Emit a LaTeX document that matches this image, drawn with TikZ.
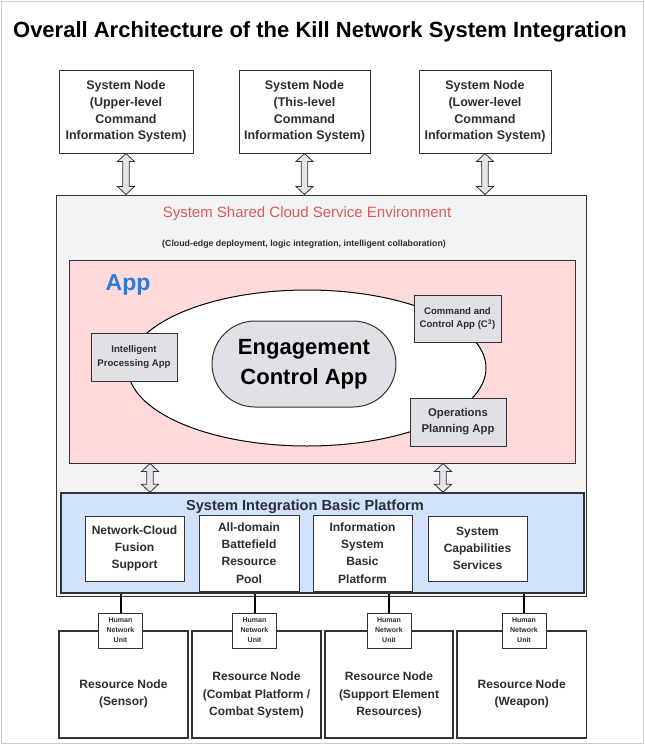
\documentclass[tikz,border=0pt]{standalone}
\usepackage{fontspec}
\setmainfont{Liberation Sans}
\usetikzlibrary{calc,shapes.geometric}
\definecolor{framegray}{HTML}{CCCCCC}
\definecolor{borderdark}{HTML}{333333}
\definecolor{textdark}{HTML}{2D2D2D}
\definecolor{cloudfill}{HTML}{F2F3F5}
\definecolor{pinkfill}{HTML}{FEDADB}
\definecolor{bluefill}{HTML}{D0E3FB}
\definecolor{nodegray}{HTML}{DFE1E6}
\definecolor{arrowfill}{HTML}{E4E5E9}
\definecolor{redtext}{HTML}{E05A5A}
\definecolor{bluetext}{HTML}{2A7AD9}
\definecolor{navytext}{HTML}{2B2F3A}
\newcommand\dblarrow[2]{%
  \draw[arrowstyle] let \p1=(#1), \p2=(#2) in
    (\x1,\y1) -- (\x1+8.5pt,\y1-8pt) -- (\x1+3.3pt,\y1-8pt) -- (\x1+3.3pt,\y2+8pt)
    -- (\x1+8.5pt,\y2+8pt) -- (\x1,\y2) -- (\x1-8.5pt,\y2+8pt) -- (\x1-3.3pt,\y2+8pt)
    -- (\x1-3.3pt,\y1-8pt) -- (\x1-8.5pt,\y1-8pt) -- cycle;}
\begin{document}
\begin{tikzpicture}[x=1pt,y=-1pt,
  arrowstyle/.style={draw=borderdark, line width=0.8pt, fill=arrowfill, line join=miter},
  sysbox/.style={draw=borderdark, line width=1pt, fill=white, minimum height=83pt, inner sep=0pt,
    align=center, text=textdark, font=\bfseries\fontsize{12.5}{16.7}\selectfont},
  appbox/.style={draw=borderdark, line width=0.9pt, fill=nodegray, inner sep=0pt, align=center,
    text=textdark, font=\bfseries\fontsize{9.6}{13.7}\selectfont},
  platbox/.style={draw=borderdark, line width=1pt, fill=white, inner sep=0pt, minimum width=99pt,
    align=center, text=textdark, font=\bfseries\fontsize{12}{17.3}\selectfont},
  resbox/.style={draw=borderdark, line width=1.1pt, fill=white, inner sep=0pt, minimum height=107pt},
  restext/.style={align=center, text=textdark, inner sep=0pt, font=\bfseries\fontsize{12}{17.5}\selectfont},
  hnubox/.style={draw=borderdark, line width=0.9pt, fill=white, inner sep=0pt, minimum width=44pt,
    minimum height=35pt, align=center, text=textdark, font=\bfseries\fontsize{7}{10}\selectfont},
  hnuline/.style={draw=black, line width=2pt}
]
\useasboundingbox (0,0) rectangle (645,745);
\fill[white] (0,0) rectangle (645,745);
\draw[framegray, line width=1pt] (1.5,1.5) rectangle (643.5,743.5);

\node[font=\bfseries\fontsize{22}{26}\selectfont, text=black, inner sep=0pt] (title) at (320,32)
  {Overall Architecture of the Kill Network System Integration};

% system nodes
\node[sysbox, minimum width=134pt] (s1) at (126,111.5) {System Node\\(Upper-level\\Command\\Information System)};
\node[sysbox, minimum width=131pt] (s2) at (304.5,111.5) {System Node\\(This-level\\Command\\Information System)};
\node[sysbox, minimum width=132pt] (s3) at (485,111.5) {System Node\\(Lower-level\\Command\\Information System)};

% cloud environment
\node[draw=borderdark, line width=1pt, fill=cloudfill, minimum width=530pt, minimum height=401.5pt, inner sep=0pt]
  (cloud) at (321.5,395.75) {};
\node[text=redtext, font=\fontsize{15}{18}\selectfont, inner sep=0pt] (cloudtitle) at (307,214)
  {System Shared Cloud Service Environment};
\node[text=textdark, font=\bfseries\fontsize{8.8}{10}\selectfont, inner sep=0pt] (cloudsub) at (304,244)
  {(Cloud-edge deployment, logic integration, intelligent collaboration)};

\dblarrow{s1.south}{s1.south |- cloud.north}
\dblarrow{s2.south}{s2.south |- cloud.north}
\dblarrow{s3.south}{s3.south |- cloud.north}

% app area
\node[draw=borderdark, line width=1pt, fill=pinkfill, minimum width=506pt, minimum height=203pt, inner sep=0pt]
  (pink) at (322,361.5) {};
\node[text=bluetext, font=\bfseries\fontsize{23}{26}\selectfont, inner sep=0pt] (applabel) at (128,285) {App};
\node[ellipse, draw=black, line width=1pt, fill=white, minimum width=358pt, minimum height=156pt, inner sep=0pt]
  (oval) at (307,368) {};
\node[draw=borderdark, line width=1pt, fill=nodegray, minimum width=184pt, minimum height=86pt,
  rounded corners=43pt, inner sep=0pt, align=center, text=black,
  font=\bfseries\fontsize{22}{30}\selectfont] (engage) at (304,364) {Engagement\\Control App};
\node[appbox, minimum width=86pt, minimum height=48pt] (ipa) at (134,357) {Intelligent\\Processing App};
\node[appbox, minimum width=87pt, minimum height=47pt] (c2) at (457.5,318.5) {Command and\\Control App (C\textsuperscript{3})};
\node[appbox, minimum width=96pt, minimum height=48pt, font=\bfseries\fontsize{11.3}{16}\selectfont] (opa) at (458,422) {Operations\\Planning App};

% platform
\node[draw=borderdark, line width=1.5pt, fill=bluefill, minimum width=523pt, minimum height=100pt, inner sep=0pt]
  (blue) at (322.5,543) {};
\node[text=navytext, font=\bfseries\fontsize{14.6}{17}\selectfont, inner sep=0pt] (bluetitle) at (305,507)
  {System Integration Basic Platform};
\node[platbox, minimum height=65pt] (b1) at (134.5,548.5) {Network-Cloud\\Fusion\\Support};
\node[platbox, minimum width=100pt, minimum height=76pt] (b2) at (249,553) {All-domain\\Battefield\\Resource\\Pool};
\node[platbox, minimum height=76pt] (b3) at (362.5,553) {Information\\System\\Basic\\Platform};
\node[platbox, minimum height=65pt] (b4) at (477.5,548.5) {System\\Capabilities\\Services};

\coordinate (pa1) at (150,0);
\coordinate (pa2) at (443,0);
\dblarrow{pa1 |- pink.south}{pa1 |- blue.north}
\dblarrow{pa2 |- pink.south}{pa2 |- blue.north}

% resource nodes
\node[resbox, minimum width=129pt] (r1) at (123.5,684.5) {};
\node[resbox, minimum width=129pt] (r2) at (256.5,684.5) {};
\node[resbox, minimum width=128pt] (r3) at (389,684.5) {};
\node[resbox, minimum width=129.5pt] (r4) at (521.75,684.5) {};
\node[restext] (r1t) at (123.5,694) {Resource Node\\(Sensor)};
\node[restext] (r2t) at (256.5,695) {Resource Node\\(Combat Platform /\\Combat System)};
\node[restext] (r3t) at (389,695) {Resource Node\\(Support Element\\Resources)};
\node[restext] (r4t) at (521.75,694) {Resource Node\\(Weapon)};

% human network units
\node[hnubox] (h1) at (120.5,630.5) {Human\\Network\\Unit};
\node[hnubox] (h2) at (254.5,630.5) {Human\\Network\\Unit};
\node[hnubox] (h3) at (389,630.5) {Human\\Network\\Unit};
\node[hnubox] (h4) at (524,630.5) {Human\\Network\\Unit};
\draw[hnuline] (h1.north) -- (h1.north |- blue.south);
\draw[hnuline] (h2.north) -- (h2.north |- blue.south);
\draw[hnuline] (h3.north) -- (h3.north |- blue.south);
\draw[hnuline] (h4.north) -- (h4.north |- blue.south);
\end{tikzpicture}
\end{document}
